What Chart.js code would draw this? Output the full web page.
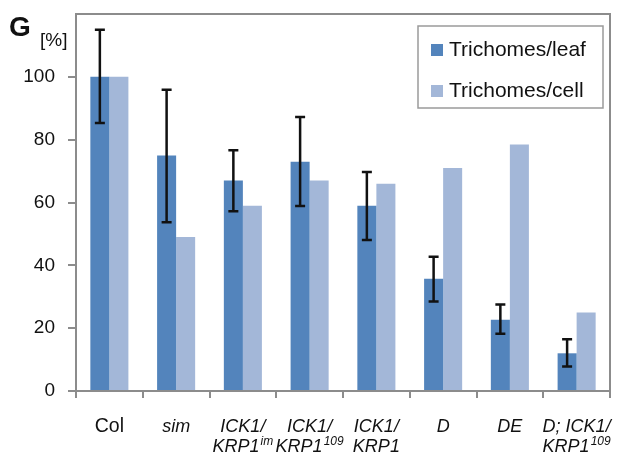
<!DOCTYPE html>
<html>
<head>
<meta charset="utf-8">
<script src="https://cdn.jsdelivr.net/npm/chart.js@4"></script>
<style>
  html, body { margin: 0; padding: 0; background: #fff; }
  #chart { display: block; }
</style>
</head>
<body>
<canvas id="chart" width="622" height="460"></canvas>
<script>
  // category labels: lines split by '\n', superscript after '^'
  const categories = [
    'Col', 'sim', 'ICK1/\nKRP1^im', 'ICK1/\nKRP1^109',
    'ICK1/\nKRP1', 'D', 'DE', 'D; ICK1/\nKRP1^109'
  ];
  const perLeaf = [100, 75, 67, 73, 59, 35.7, 22.7, 12];
  const perCell = [100, 49, 59, 67, 66, 71, 78.5, 25];
  const errLow = [85.3, 53.7, 57.2, 58.9, 48.1, 28.5, 18.2, 7.8];
  const errHigh = [115, 95.9, 76.6, 87.2, 69.7, 42.7, 27.5, 16.5];
  const yTicks = [0, 20, 40, 60, 80, 100];

  const axisGrey = '#8c8c8c';
  const font = 'Liberation Sans, Arial, sans-serif';

  const extras = {
    id: 'extras',
    afterDatasetsDraw(chart) {
      const c = chart.ctx;
      const y = chart.scales.y;
      const meta = chart.getDatasetMeta(0);
      c.save();
      c.strokeStyle = '#111';
      c.lineWidth = 2.5;
      meta.data.forEach((bar, i) => {
        const top = y.getPixelForValue(errHigh[i]);
        const bot = y.getPixelForValue(errLow[i]);
        c.beginPath();
        c.moveTo(bar.x, top); c.lineTo(bar.x, bot);
        c.moveTo(bar.x - 5, top); c.lineTo(bar.x + 5, top);
        c.moveTo(bar.x - 5, bot); c.lineTo(bar.x + 5, bot);
        c.stroke();
      });
      c.restore();
    },
    afterDraw(chart) {
      const c = chart.ctx;
      const a = chart.chartArea;
      const x = chart.scales.x;
      c.save();
      c.strokeStyle = axisGrey;
      c.lineWidth = 2;
      c.beginPath();
      c.moveTo(a.left, a.top); c.lineTo(a.right, a.top); c.lineTo(a.right, a.bottom);
      c.stroke();

      // category labels with italics and superscripts
      c.fillStyle = '#111';
      c.textBaseline = 'alphabetic';
      c.textAlign = 'left';
      categories.forEach((lab, i) => {
        const cx = x.getPixelForTick(i);
        const style = i === 0 ? '' : 'italic ';
        const size = i === 0 ? 19.5 : 18;
        lab.split('\n').forEach((line, j) => {
          const [main, sup] = line.split('^');
          const by = a.bottom + 41 + j * 20;
          c.font = style + size + 'px ' + font;
          const w1 = c.measureText(main).width;
          c.font = style + '12px ' + font;
          const w2 = sup ? c.measureText(sup).width + 1 : 0;
          const x0 = cx - (w1 + w2) / 2;
          c.font = style + size + 'px ' + font;
          c.fillText(main, x0, by);
          if (sup) {
            c.font = style + '12px ' + font;
            c.fillText(sup, x0 + w1 + 1, by - 7);
          }
        });
      });

      // legend
      c.strokeStyle = '#9a9a9a';
      c.lineWidth = 1.5;
      c.strokeRect(418, 26, 185, 82);
      const items = [['Trichomes/leaf', '#5384bc', 50], ['Trichomes/cell', '#a3b7d8', 91]];
      c.font = '21px ' + font;
      c.textBaseline = 'middle';
      items.forEach(([txt, col, cy]) => {
        c.fillStyle = col;
        c.fillRect(431, cy - 6, 12, 12);
        c.fillStyle = '#111';
        c.fillText(txt, 449, cy);
      });

      c.font = 'bold 28px ' + font;
      c.textBaseline = 'alphabetic';
      c.fillText('G', 9, 36);
      c.font = '19px ' + font;
      c.fillText('[%]', 40, 46);
      c.restore();
    }
  };

  new Chart(document.getElementById('chart'), {
    type: 'bar',
    data: {
      labels: categories,
      datasets: [
        { label: 'Trichomes/leaf', data: perLeaf, backgroundColor: '#5384bc' },
        { label: 'Trichomes/cell', data: perCell, backgroundColor: '#a3b7d8' }
      ]
    },
    options: {
      responsive: false,
      animation: false,
      devicePixelRatio: 1,
      layout: { padding: { top: 14, right: 12 } },
      datasets: { bar: { categoryPercentage: 0.57, barPercentage: 1 } },
      plugins: { legend: { display: false }, tooltip: { enabled: false } },
      scales: {
        x: {
          grid: { offset: true, drawOnChartArea: false, drawTicks: true, tickLength: 7, color: axisGrey, lineWidth: 2 },
          border: { color: axisGrey, width: 2 },
          ticks: { display: false, autoSkip: false },
          afterFit: (axis) => { axis.height = 69; axis.paddingLeft = 0; axis.paddingRight = 0; }
        },
        y: {
          min: 0,
          max: 120,
          afterBuildTicks: (axis) => { axis.ticks = yTicks.concat([120]).map(v => ({ value: v })); },
          grid: {
            drawOnChartArea: false, drawTicks: true, tickLength: 8, lineWidth: 2,
            color: (ctx) => ctx.tick && ctx.tick.value === 120 ? 'rgba(0,0,0,0)' : axisGrey
          },
          border: { color: axisGrey, width: 2 },
          ticks: {
            color: '#111',
            padding: 13,
            font: { family: font, size: 19 },
            callback: (v) => yTicks.includes(v) ? v : ''
          },
          afterFit: (axis) => { axis.width = 76; axis.paddingTop = 0; axis.paddingBottom = 0; }
        }
      }
    },
    plugins: [extras]
  });
</script>
</body>
</html>
